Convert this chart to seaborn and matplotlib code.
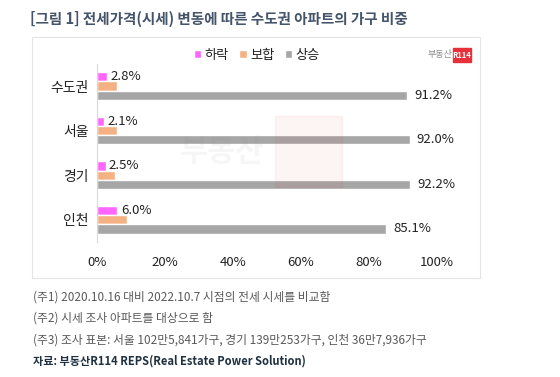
import pandas as pd
import matplotlib.pyplot as plt
from matplotlib.patches import Rectangle
import seaborn as sns

regions = ['수도권', '서울', '경기', '인천']
fall = [2.8, 2.1, 2.5, 6.0]      # 하락
flat = [6.0, 5.9, 5.3, 8.9]      # 보합 (no labels in the picture)
rise = [91.2, 92.0, 92.2, 85.1]  # 상승
series = ['하락', '보합', '상승']
xticks = [0, 20, 40, 60, 80, 100]

rows = []
for i, r in enumerate(regions):
    rows.append((r, '하락', fall[i]))
    rows.append((r, '보합', flat[i]))
    rows.append((r, '상승', rise[i]))
df = pd.DataFrame(rows, columns=['region', 'kind', 'value'])

sns.set_style('white')
plt.rcParams['font.family'] = ['Noto Sans CJK KR', 'DejaVu Sans']

W, H = 560, 377
fig = plt.figure(figsize=(5.6, 3.77), dpi=100)
ax = fig.add_axes([97 / W, 0.358, 340 / W, 0.473])

pal = {'하락': '#FF66FF', '보합': '#F4B183', '상승': '#A6A6A6'}
sns.barplot(data=df, x='value', y='region', hue='kind', hue_order=series,
            order=regions, palette=pal, orient='h', width=0.62,
            ax=ax, saturation=1, legend=True)

# data labels for 하락 and 상승
for cont, kind in zip(ax.containers, series):
    if kind == '보합':
        continue
    ax.bar_label(cont, labels=[f'{v:.1f}%' for v in cont.datavalues],
                 padding=2.5 if kind == '하락' else 5, fontsize=9.5, color='#222222')

ax.set_xlim(0, 100)
ax.set_ylim(3.5, -0.5)
ax.set_xticks(xticks)
ax.set_xticklabels([f'{t}%' for t in xticks], fontsize=9.5, color='#222222')
ax.tick_params(axis='y', labelsize=10, colors='#222222', length=0, pad=6)
ax.tick_params(axis='x', length=0, pad=10)
ax.set_xlabel('')
ax.set_ylabel('')
for s in ['top', 'right', 'bottom']:
    ax.spines[s].set_visible(False)
ax.spines['left'].set_color('#D9D9D9')

leg = ax.legend(loc='center', bbox_to_anchor=(0.47, 1.0 + (86 - 22.3 - 55) / 178.3), ncol=3,
                frameon=False, fontsize=9.5, handlelength=0.55, handleheight=0.55,
                handletextpad=0.25, columnspacing=0.8)
for t in leg.get_texts():
    t.set_color('#222222')

# chart frame
fig.patches.append(Rectangle((32 / W, 1 - 278 / H), 448 / W, 241 / H,
                             transform=fig.transFigure, fill=False,
                             edgecolor='#E4E4E4', linewidth=0.8))

# logo
fig.text(452 / W, 1 - 55 / H, '부동산', fontsize=6.5, color='#8C8C8C',
         ha='right', va='center')
fig.patches.append(Rectangle((453 / W, 1 - 62 / H), 18 / W, 14 / H,
                             transform=fig.transFigure, color='#E8303A'))
fig.text(462 / W, 1 - 55 / H, 'R114', fontsize=5.5, color='white',
         ha='center', va='center', fontweight='bold')

# watermark
fig.patches.append(Rectangle((275 / W, 1 - 187 / H), 67 / W, 71 / H,
                             transform=fig.transFigure, color='#E8303A',
                             alpha=0.05))
fig.text(222 / W, 1 - 152 / H, '부동산', fontsize=22, color='#888888',
         alpha=0.07, ha='center', va='center', fontweight='bold')

fig.text(30 / W, 1 - 19 / H,
         '[그림 1] 전세가격(시세) 변동에 따른 수도권 아파트의 가구 비중',
         fontsize=10.5, fontweight='bold', color='#44546A', va='center')

notes = ['(주1) 2020.10.16 대비 2022.10.7 시점의 전세 시세를 비교함',
         '(주2) 시세 조사 아파트를 대상으로 함',
         '(주3) 조사 표본: 서울 102만5,841가구, 경기 139만253가구, 인천 36만7,936가구']
for i, n in enumerate(notes):
    fig.text(33 / W, 1 - (297 + 21.5 * i) / H, n, fontsize=8.5,
             color='#595959', va='center')
fig.text(33 / W, 1 - 361 / H, '자료: 부동산R114 REPS(Real Estate Power Solution)',
         fontsize=8, color='#1F3040', fontweight='bold', va='center')

fig.savefig('out.png', dpi=100)
